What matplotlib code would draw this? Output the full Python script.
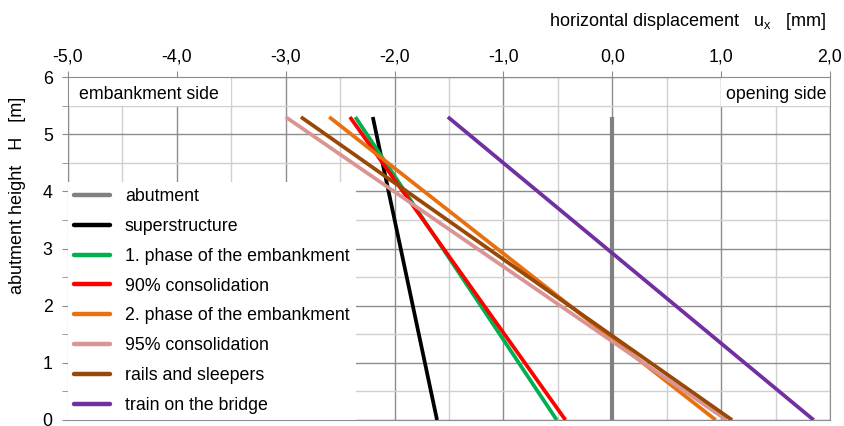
import numpy as np
import matplotlib
matplotlib.use("Agg")
import matplotlib.pyplot as plt
from matplotlib.patches import Rectangle
from matplotlib.ticker import MultipleLocator, FuncFormatter

plt.rcParams['font.family'] = ['Liberation Sans', 'DejaVu Sans']

# displacement of each load stage at the top (H = 5.3 m) and the base (H = 0)
height = [5.3, 0.0]
labels = ["abutment", "superstructure", "1. phase of the embankment",
          "90% consolidation", "2. phase of the embankment",
          "95% consolidation", "rails and sleepers", "train on the bridge"]
ux_top = [0.0, -2.20, -2.36, -2.41, -2.60, -3.00, -2.86, -1.51]
ux_bottom = [0.0, -1.61, -0.51, -0.43, 0.95, 1.05, 1.10, 1.85]
colors = ["#808080", "#000000", "#00b050", "#ff0000", "#e8700f",
          "#d99594", "#984807", "#7030a0"]

fig = plt.figure(figsize=(8.45, 4.26), dpi=100)
ax = fig.add_axes([68 / 845, 6 / 426, 762 / 845, 343 / 426])

for i in range(len(labels)):
    lw = 3.0 if i == 0 else 2.7
    ax.plot([ux_top[i], ux_bottom[i]], height, color=colors[i], lw=lw,
            solid_capstyle='butt', label=labels[i], zorder=3)

ax.set_xlim(-5, 2)
ax.set_ylim(0, 6)
ax.xaxis.tick_top()
ax.xaxis.set_label_position('top')
ax.xaxis.set_major_locator(MultipleLocator(1))
ax.xaxis.set_minor_locator(MultipleLocator(0.5))
ax.yaxis.set_major_locator(MultipleLocator(1))
ax.yaxis.set_minor_locator(MultipleLocator(0.5))
ax.xaxis.set_major_formatter(FuncFormatter(lambda v, p: f"{v:.1f}".replace(".", ",")))
ax.grid(which='major', color='#8c8c8c', lw=1.0, zorder=0)
ax.grid(which='minor', color='#d0d0d0', lw=1.0, zorder=0)
ax.set_axisbelow(True)
ax.tick_params(which='major', length=4, color='#8c8c8c', labelsize=12.8)
ax.tick_params(axis='x', which='major', pad=4)
ax.tick_params(axis='y', which='major', pad=7)
ax.tick_params(axis='x', which='minor', length=0)
ax.tick_params(axis='y', which='minor', length=4, color='#8c8c8c')
for s in ax.spines.values():
    s.set_color('#8c8c8c')

# side labels in the top row
ax.add_patch(Rectangle((-5, 5.5), 1.5, 0.5, facecolor='white', edgecolor='none', zorder=1))
ax.text(-4.9, 5.7, "embankment side", fontsize=12.8, va='center', ha='left', zorder=2)
ax.add_patch(Rectangle((1.0, 5.5), 1.0, 0.5, facecolor='white', edgecolor='none', zorder=1))
ax.text(1.97, 5.7, "opening side", fontsize=12.8, va='center', ha='right', zorder=2)

leg = ax.legend(loc='lower left', bbox_to_anchor=(0.0, 0.0), fontsize=12.8,
                frameon=True, fancybox=False, framealpha=1, edgecolor='none',
                facecolor='white', handlelength=2.0, handletextpad=0.85,
                labelspacing=0.72, borderaxespad=0.0, borderpad=0.35)
for h in leg.legend_handles:
    h.set_linewidth(3.2)
    h.set_solid_capstyle('round')
leg.set_zorder(4)

fig.text(826 / 845, 1 - 22 / 426, r"horizontal displacement   u$_\mathregular{x}$   [mm]",
         fontsize=13, ha='right', va='center')
fig.text(18 / 845, 1 - 195 / 426, "abutment height   H   [m]", fontsize=13,
         rotation=90, ha='center', va='center')

fig.savefig("out.png", dpi=100)
